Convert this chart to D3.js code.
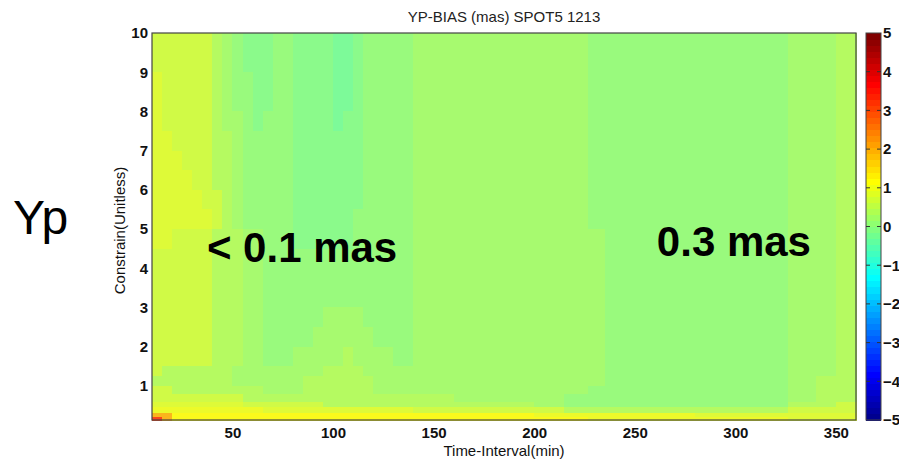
<!DOCTYPE html>
<html><head><meta charset="utf-8">
<script src="https://cdn.jsdelivr.net/npm/d3@7"></script>
<style>
body{margin:0;background:#fff;}
svg{display:block;font-family:"Liberation Sans",Arial,Helvetica,sans-serif;}
</style>
</head><body>
<svg id="chart" width="899" height="459"></svg>
<script>
// ---------------- data ----------------
const chartTitle = "YP-BIAS (mas) SPOT5 1213";
const xLabel = "Time-Interval(min)";
const yLabel = "Constrain(Unitless)";
const sideLabel = "Yp";
const notes = [
  {text: "< 0.1 mas", t: 37.3, c: 4.16},
  {text: "0.3 mas", t: 261, c: 4.31}
];
// Time-interval cell edges (min)
const timeEdges = [10,15,20,25,30,35,40,45,50,55,60,65,70,75,80,85,90,95,100,105,110,115,120,130,140,160,180,200,215,227,235,250,280,300,326,340,350,360];
// Constraint cell edges (top -> bottom)
const constrainEdges = [10,9,8.5,8,7.5,7,6.5,6,5.5,5,4.5,4,3.5,3,2.5,2,1.5,1.25,1,0.8,0.6,0.45,0.3,0.2,0.13];
// YP bias (mas), one row per constraint band (top -> bottom), one value per time cell
const biasRows = [
 [0.7,0.7,0.7,0.7,0.7,0.7,0.4,0.25,0.1,-0.05,-0.05,-0.05,0.1,0.1,-0.05,-0.05,-0.05,-0.05,-0.2,-0.2,-0.05,0.1,0.1,0.1,0.25,0.25,0.25,0.25,0.25,0.1,0.1,0.1,0.1,0.1,0.25,0.25,0.4],
 [0.85,0.7,0.7,0.7,0.7,0.7,0.4,0.25,0.1,0.1,-0.05,-0.05,0.1,0.1,-0.05,-0.05,-0.05,-0.05,-0.2,-0.2,-0.05,0.1,0.1,0.1,0.25,0.25,0.25,0.25,0.25,0.1,0.1,0.1,0.1,0.1,0.25,0.25,0.4],
 [0.85,0.7,0.7,0.7,0.7,0.7,0.4,0.25,0.1,0.1,-0.05,-0.05,0.1,0.1,-0.05,-0.05,-0.05,-0.05,-0.2,-0.2,-0.05,0.1,0.1,0.1,0.25,0.25,0.25,0.25,0.25,0.1,0.1,0.1,0.1,0.1,0.25,0.25,0.4],
 [0.85,0.7,0.7,0.7,0.7,0.7,0.4,0.25,0.25,0.1,-0.05,0.1,0.1,0.1,-0.05,-0.05,-0.05,-0.05,-0.2,-0.05,-0.05,0.1,0.1,0.1,0.25,0.25,0.25,0.25,0.25,0.1,0.1,0.1,0.1,0.1,0.25,0.25,0.4],
 [0.85,0.85,0.7,0.7,0.7,0.7,0.4,0.4,0.25,0.1,0.1,0.1,0.1,0.1,-0.05,-0.05,-0.05,-0.05,-0.05,-0.05,-0.05,0.1,0.1,0.1,0.25,0.25,0.25,0.25,0.25,0.1,0.1,0.1,0.1,0.1,0.25,0.25,0.4],
 [0.85,0.85,0.85,0.7,0.7,0.7,0.4,0.4,0.25,0.1,0.1,0.1,0.1,0.1,-0.05,-0.05,-0.05,-0.05,-0.05,-0.05,-0.05,0.1,0.1,0.1,0.25,0.25,0.25,0.25,0.25,0.1,0.1,0.1,0.1,0.1,0.25,0.25,0.4],
 [0.85,0.85,0.85,0.85,0.7,0.7,0.4,0.4,0.25,0.1,0.1,0.1,0.1,0.1,-0.05,-0.05,-0.05,-0.05,-0.05,-0.05,-0.05,0.1,0.1,0.1,0.25,0.25,0.25,0.25,0.25,0.1,0.1,0.1,0.1,0.1,0.25,0.25,0.4],
 [0.85,0.85,0.85,0.85,0.85,0.7,0.7,0.4,0.25,0.1,0.1,0.1,0.1,0.1,-0.05,-0.05,-0.05,-0.05,-0.05,-0.05,-0.05,0.1,0.1,0.1,0.25,0.25,0.25,0.25,0.25,0.1,0.1,0.1,0.1,0.1,0.25,0.25,0.4],
 [0.85,0.85,0.85,0.85,0.85,0.85,0.7,0.4,0.25,0.1,0.1,0.1,0.1,0.1,-0.05,-0.05,-0.05,-0.05,-0.05,-0.05,0.1,0.1,0.1,0.1,0.25,0.25,0.25,0.25,0.25,0.1,0.1,0.1,0.1,0.1,0.25,0.25,0.4],
 [0.85,0.85,0.7,0.7,0.7,0.7,0.4,0.4,0.4,0.25,0.25,0.1,0.1,0.1,-0.05,-0.05,-0.05,-0.05,-0.05,-0.05,0.1,0.1,0.1,0.1,0.25,0.25,0.25,0.25,0.25,0.25,0.1,0.1,0.1,0.1,0.25,0.25,0.4],
 [0.7,0.7,0.7,0.7,0.7,0.7,0.4,0.4,0.4,0.25,0.25,0.1,0.1,0.1,0.1,0.1,0.1,0.1,0.1,0.1,0.1,0.1,0.1,0.1,0.25,0.25,0.25,0.25,0.25,0.25,0.1,0.1,0.1,0.1,0.25,0.25,0.4],
 [0.7,0.7,0.7,0.7,0.7,0.7,0.4,0.4,0.4,0.25,0.25,0.1,0.1,0.1,0.1,0.1,0.1,0.1,0.1,0.1,0.1,0.1,0.1,0.1,0.25,0.25,0.25,0.25,0.25,0.25,0.1,0.1,0.1,0.1,0.25,0.25,0.4],
 [0.7,0.7,0.7,0.7,0.7,0.7,0.4,0.4,0.4,0.25,0.25,0.1,0.1,0.1,0.1,0.1,0.1,0.1,0.1,0.1,0.1,0.1,0.1,0.1,0.25,0.25,0.25,0.25,0.25,0.25,0.1,0.1,0.1,0.1,0.25,0.25,0.4],
 [0.7,0.7,0.7,0.7,0.7,0.7,0.4,0.4,0.4,0.25,0.25,0.1,0.1,0.1,0.1,0.1,0.1,0.25,0.25,0.25,0.25,0.1,0.1,0.1,0.25,0.25,0.25,0.25,0.25,0.25,0.1,0.1,0.1,0.1,0.25,0.25,0.4],
 [0.7,0.7,0.7,0.7,0.7,0.7,0.4,0.4,0.4,0.25,0.25,0.1,0.1,0.1,0.1,0.1,0.25,0.25,0.25,0.25,0.25,0.25,0.1,0.1,0.25,0.25,0.25,0.25,0.25,0.25,0.1,0.1,0.1,0.1,0.25,0.25,0.4],
 [0.7,0.7,0.7,0.7,0.7,0.7,0.4,0.4,0.4,0.25,0.25,0.1,0.1,0.1,0.25,0.25,0.25,0.25,0.25,0.4,0.25,0.25,0.25,0.1,0.25,0.25,0.25,0.25,0.25,0.25,0.1,0.1,0.1,0.1,0.25,0.25,0.4],
 [0.7,0.4,0.4,0.4,0.4,0.4,0.4,0.4,0.25,0.25,0.25,0.25,0.25,0.25,0.25,0.25,0.25,0.4,0.4,0.4,0.4,0.25,0.25,0.25,0.25,0.25,0.25,0.25,0.25,0.25,0.1,0.1,0.1,0.1,0.25,0.25,0.4],
 [0.4,0.4,0.4,0.4,0.4,0.4,0.4,0.4,0.25,0.25,0.25,0.25,0.25,0.25,0.25,0.4,0.4,0.4,0.4,0.4,0.4,0.4,0.25,0.25,0.25,0.25,0.25,0.25,0.25,0.25,0.1,0.1,0.1,0.1,0.25,0.4,0.4],
 [0.7,0.7,0.4,0.4,0.4,0.4,0.4,0.4,0.4,0.4,0.4,0.25,0.25,0.25,0.25,0.4,0.4,0.4,0.4,0.4,0.4,0.4,0.25,0.25,0.25,0.25,0.25,0.25,0.25,0.1,0.1,0.1,0.1,0.1,0.25,0.4,0.4],
 [0.7,0.7,0.7,0.7,0.7,0.7,0.7,0.7,0.7,0.4,0.4,0.4,0.4,0.4,0.4,0.4,0.4,0.4,0.4,0.4,0.4,0.4,0.4,0.4,0.4,0.25,0.25,0.25,0.1,0.1,0.1,0.1,0.1,0.1,0.25,0.4,0.4],
 [0.85,0.85,0.85,0.85,0.85,0.85,0.85,0.85,0.85,0.7,0.7,0.7,0.7,0.7,0.7,0.7,0.7,0.4,0.4,0.4,0.4,0.4,0.4,0.4,0.4,0.4,0.4,0.25,0.1,0.1,0.1,0.1,0.1,0.1,0.4,0.4,0.7],
 [1.0,1.0,1.0,1.0,1.0,1.0,1.0,1.0,1.0,1.0,1.0,0.85,0.85,0.85,0.85,0.85,0.85,0.85,0.85,0.85,0.85,0.85,0.85,0.85,0.7,0.7,0.7,0.7,0.4,0.4,0.4,0.4,0.4,0.4,0.7,0.7,0.7],
 [2.0,2.0,1.2,1.2,1.2,1.2,1.2,1.2,1.2,1.2,1.2,1.2,1.2,1.2,1.2,1.2,1.2,1.2,1.2,1.2,1.2,1.2,1.2,1.2,1.2,1.2,1.2,1.0,1.0,1.0,1.0,1.0,0.85,0.85,0.85,0.85,0.85],
 [3.2,2.0,1.2,1.2,1.2,1.2,1.2,1.2,1.2,1.2,1.2,1.2,1.2,1.2,1.2,1.2,1.2,1.2,1.2,1.2,1.2,1.2,1.2,1.2,1.2,1.2,1.2,1.2,1.2,1.0,1.0,1.0,1.0,1.0,0.85,0.85,0.85]
];
const xTicks = [50,100,150,200,250,300,350];
const yTicks = [1,2,3,4,5,6,7,8,9,10];
const cbTicks = [-5,-4,-3,-2,-1,0,1,2,3,4,5];
const colorRange = [-5,5];

// ---------------- MATLAB jet(64) ----------------
function jetMap(m){
  const n = Math.ceil(m/4);
  const u = [];
  for(let i=1;i<=n;i++) u.push(i/n);
  for(let i=1;i<n;i++) u.push(1);
  for(let i=n;i>=1;i--) u.push(i/n);
  const g0 = Math.ceil(n/2) - (m%4===1?1:0);
  const J = Array.from({length:m},()=>[0,0,0]);
  u.forEach((val,k)=>{
    const g = g0 + k + 1, r = g + n, b = g - n;
    if(r>=1 && r<=m) J[r-1][0]=val;
    if(g>=1 && g<=m) J[g-1][1]=val;
    if(b>=1 && b<=m) J[b-1][2]=val;
  });
  return J;
}
const JET = jetMap(64);
const lvl = d3.scaleQuantize().domain(colorRange).range(d3.range(64));
function jetColor(v, wash){
  const c = JET[lvl(Math.max(colorRange[0], Math.min(colorRange[1]-1e-9, v)))];
  const a = wash ? 0.87 : 1, b = wash ? 28 : 0;
  return d3.rgb(c[0]*255*a+b, c[1]*255*a+b, c[2]*255*a+b).formatHex();
}

// ---------------- layout ----------------
const svg = d3.select("#chart");
const x = d3.scaleLinear().domain([10,360]).range([152,856]);
const y = d3.scaleLinear().domain([0.13,10]).range([420,33]);

// cells
const cells = [];
biasRows.forEach((row,i)=>row.forEach((v,j)=>cells.push({
  t0: timeEdges[j], t1: timeEdges[j+1], c0: constrainEdges[i], c1: constrainEdges[i+1], v
})));
svg.append("g").selectAll("rect").data(cells).join("rect")
  .attr("x", d=>x(d.t0))
  .attr("y", d=>y(d.c0))
  .attr("width", d=>x(d.t1)-x(d.t0)+0.6)
  .attr("height", d=>y(d.c1)-y(d.c0)+0.6)
  .attr("fill", d=>jetColor(d.v,true))
  .attr("shape-rendering","crispEdges");

// frame
svg.append("rect").attr("x",x(10)).attr("y",y(10))
  .attr("width",x(360)-x(10)).attr("height",y(0.13)-y(10))
  .attr("fill","none").attr("stroke","#444").attr("stroke-width",1.2);

// axes
const xAxis = svg.append("g").attr("transform",`translate(0,${y(0.13)})`)
  .call(d3.axisBottom(x).tickValues(xTicks).tickSize(0).tickPadding(7));
const yAxis = svg.append("g").attr("transform",`translate(${x(10)},0)`)
  .call(d3.axisLeft(y).tickValues(yTicks).tickSize(0).tickPadding(4));
[xAxis,yAxis].forEach(g=>{
  g.select(".domain").remove();
  g.selectAll("text").attr("font-size",15).attr("font-weight","bold").attr("fill","#111")
    .attr("font-family",'"Liberation Sans",Arial,sans-serif');
});

// titles / labels
svg.append("text").attr("x",(x(10)+x(360))/2).attr("y",22).attr("text-anchor","middle")
  .attr("font-size",15).attr("fill","#222").text(chartTitle);
svg.append("text").attr("x",(x(10)+x(360))/2).attr("y",456).attr("text-anchor","middle")
  .attr("font-size",15).attr("fill","#111").text(xLabel);
svg.append("text").attr("transform",`translate(125,${(y(10)+y(0.13))/2+4}) rotate(-90)`)
  .attr("text-anchor","middle").attr("font-size",15).attr("fill","#111").text(yLabel);
svg.append("text").attr("x",13).attr("y",234).attr("font-size",48).attr("fill","#000").text(sideLabel);
svg.selectAll("text.note").data(notes).join("text").attr("class","note")
  .attr("x",d=>x(d.t)).attr("y",d=>y(d.c))
  .attr("font-size",42).attr("font-weight","bold").attr("fill","#000").text(d=>d.text);

// colorbar
const cbX = 866, cbW = 15;
const cy = d3.scaleLinear().domain(colorRange).range([420,33]);
const levels = d3.range(64);
svg.append("g").selectAll("rect").data(levels).join("rect")
  .attr("x",cbX).attr("width",cbW)
  .attr("y",k=>cy(colorRange[0]+(k+1)*10/64))
  .attr("height",k=>cy(colorRange[0]+k*10/64)-cy(colorRange[0]+(k+1)*10/64)+0.5)
  .attr("fill",k=>{const c=JET[k];return d3.rgb(c[0]*255,c[1]*255,c[2]*255).formatHex();})
  .attr("shape-rendering","crispEdges");
svg.append("rect").attr("x",cbX).attr("y",33).attr("width",cbW).attr("height",387)
  .attr("fill","none").attr("stroke","#444").attr("stroke-width",1);
const cbT = svg.append("g");
cbTicks.forEach(t=>{
  if(t>-5 && t<5){
    cbT.append("line").attr("x1",cbX).attr("x2",cbX+4).attr("y1",cy(t)).attr("y2",cy(t)).attr("stroke","#333");
    cbT.append("line").attr("x1",cbX+cbW-4).attr("x2",cbX+cbW).attr("y1",cy(t)).attr("y2",cy(t)).attr("stroke","#333");
  }
});
const cbAxis = svg.append("g").attr("transform",`translate(${cbX+cbW},0)`)
  .call(d3.axisRight(cy).tickValues(cbTicks).tickSize(0).tickPadding(2));
cbAxis.select(".domain").remove();
cbAxis.selectAll("text").attr("font-size",15).attr("font-weight","bold").attr("fill","#111")
  .attr("font-family",'"Liberation Sans",Arial,sans-serif');
</script>
</body></html>
